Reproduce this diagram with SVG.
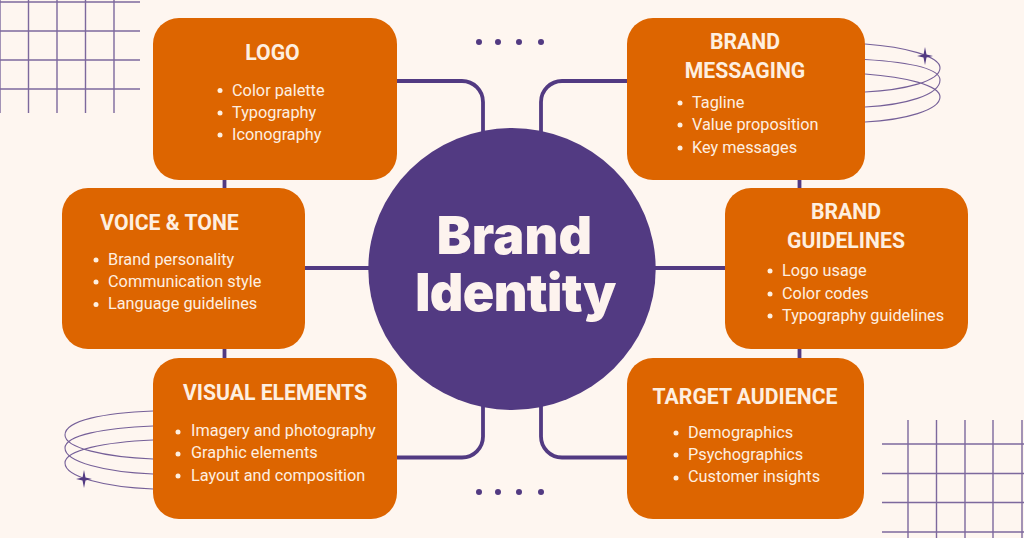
<svg xmlns="http://www.w3.org/2000/svg" width="1024" height="538" viewBox="0 0 1024 538">
<style>
.bg{fill:#fef6f0}
.node{fill:#dd6500}
.c{fill:none;stroke:#523a82;stroke-width:3.800}
.g{fill:none;stroke:#523a82;stroke-width:1.400;opacity:.75}
.r{fill:none;stroke:#523a82;stroke-width:1.100;opacity:.8}
.d{fill:#523a82}
text{font-family:Roboto,"Liberation Sans",sans-serif;fill:#feefe0}
.h{font-size:21.200px;font-weight:700;text-anchor:middle}
.t{font-size:16.300px}
.b{fill:#feefe0}
.big{font-family:Inter,Roboto,sans-serif;font-size:52px;font-weight:900;text-anchor:middle;fill:#fdf3ee}
</style>
<rect class="bg" width="1024" height="538"/>
<g id="decor">
<path class="g" d="M0 2H140M0 31H140M0 60H140M0 89H140M0 0V113M28.500 0V113M57 0V113M85.500 0V113M114 0V113"/>
<path class="g" d="M882 444H1024M882 473.500H1024M882 502.500H1024M882 532H1024M908 420V538M936.500 420V538M965 420V538M993 420V538M1022 420V538"/>
<path class="r" d="M865 44C905 47 940 56 940 68C940 81 905 90 865 92M865 59.500C905 62 940 68 940 80C940 95 905 105 865 107M865 74C905 77 940 85 940 97C940 110 905 120 865 122"/>
<path class="r" d="M153 411C105 413 65 420 65 435C65 448 105 457 153 459M153 426C105 428 65 435 65 448C65 462 105 472 153 474M153 440C105 442 65 450 65 463C65 477 105 487 153 489"/>
<path class="d" d="M925 47L926.500 54.500L933 56L926.500 57.500L925 65L923.500 57.500L917 56L923.500 54.500Z"/>
<path class="d" d="M84 470L85.500 477.500L92 479L85.500 480.500L84 488L82.500 480.500L76 479L82.500 477.500Z"/>
<g class="d"><circle cx="479" cy="42" r="3"/><circle cx="498" cy="42" r="3"/><circle cx="519" cy="42" r="3"/><circle cx="541" cy="42" r="3"/><circle cx="479" cy="492" r="3"/><circle cx="498" cy="492" r="3"/><circle cx="519" cy="492" r="3"/><circle cx="541" cy="492" r="3"/></g>
</g>
<g id="connectors">
<path class="c" d="M397 81H462A21 21 0 0 1 483 102V132"/>
<path class="c" d="M627 81H562A21 21 0 0 0 541 102V132"/>
<path class="c" d="M397 457.500H462A21 21 0 0 0 483 436.500V405"/>
<path class="c" d="M627 457.500H562A21 21 0 0 1 541 436.500V405"/>
<path class="c" d="M305 268H372M652 268H725"/>
<path class="c" d="M224.500 180V188M224.500 349V358M799.500 180V188M799.500 349V358"/>
</g>
<g id="logo"><rect class="node" x="153" y="18" width="244" height="162" rx="26"/>
<text class="h" x="272.500" y="59.500">LOGO</text>
<circle class="b" cx="220" cy="90.500" r="2.500"/><circle class="b" cx="220" cy="113" r="2.500"/><circle class="b" cx="220" cy="135" r="2.500"/>
<text class="t" x="232" y="96">Color palette</text><text class="t" x="232" y="118">Typography</text><text class="t" x="232" y="140">Iconography</text></g>
<g id="voice-tone"><rect class="node" x="62" y="188" width="243" height="161" rx="26"/>
<text class="h" x="169.500" y="229.500">VOICE &amp; TONE</text>
<circle class="b" cx="96" cy="260" r="2.500"/><circle class="b" cx="96" cy="282" r="2.500"/><circle class="b" cx="96" cy="304.500" r="2.500"/>
<text class="t" x="108" y="265">Brand personality</text><text class="t" x="108" y="287">Communication style</text><text class="t" x="108" y="309">Language guidelines</text></g>
<g id="visual-elements"><rect class="node" x="153" y="358" width="244" height="161" rx="26"/>
<text class="h" x="275" y="399.500">VISUAL ELEMENTS</text>
<circle class="b" cx="178" cy="432" r="2.500"/><circle class="b" cx="178" cy="454" r="2.500"/><circle class="b" cx="178" cy="476" r="2.500"/>
<text class="t" x="191" y="436">Imagery and photography</text><text class="t" x="191" y="458">Graphic elements</text><text class="t" x="191" y="481">Layout and composition</text></g>
<g id="brand-messaging"><rect class="node" x="627" y="18" width="238" height="162" rx="26"/>
<text class="h" x="745" y="48.500">BRAND</text><text class="h" x="745" y="77.500">MESSAGING</text>
<circle class="b" cx="680" cy="103" r="2.500"/><circle class="b" cx="680" cy="125" r="2.500"/><circle class="b" cx="680" cy="148" r="2.500"/>
<text class="t" x="692" y="107.500">Tagline</text><text class="t" x="692" y="130">Value proposition</text><text class="t" x="692" y="152.500">Key messages</text></g>
<g id="brand-guidelines"><rect class="node" x="725" y="188" width="243" height="161" rx="26"/>
<text class="h" x="846" y="218.500">BRAND</text><text class="h" x="846" y="247.500">GUIDELINES</text>
<circle class="b" cx="770" cy="271" r="2.500"/><circle class="b" cx="770" cy="294" r="2.500"/><circle class="b" cx="770" cy="316" r="2.500"/>
<text class="t" x="782" y="276">Logo usage</text><text class="t" x="782" y="299">Color codes</text><text class="t" x="782" y="321">Typography guidelines</text></g>
<g id="target-audience"><rect class="node" x="627" y="358" width="237" height="161" rx="26"/>
<text class="h" x="745" y="403.500">TARGET AUDIENCE</text>
<circle class="b" cx="676" cy="433" r="2.500"/><circle class="b" cx="676" cy="455" r="2.500"/><circle class="b" cx="676" cy="478" r="2.500"/>
<text class="t" x="688" y="438">Demographics</text><text class="t" x="688" y="460">Psychographics</text><text class="t" x="688" y="482">Customer insights</text></g>
<g id="brand-identity"><ellipse cx="512" cy="269" rx="143.700" ry="141" fill="#523a82"/>
<text class="big" x="514.500" y="254" letter-spacing=".2">Brand</text><text class="big" x="515.500" y="311" letter-spacing="-.6">Identity</text></g>
</svg>
